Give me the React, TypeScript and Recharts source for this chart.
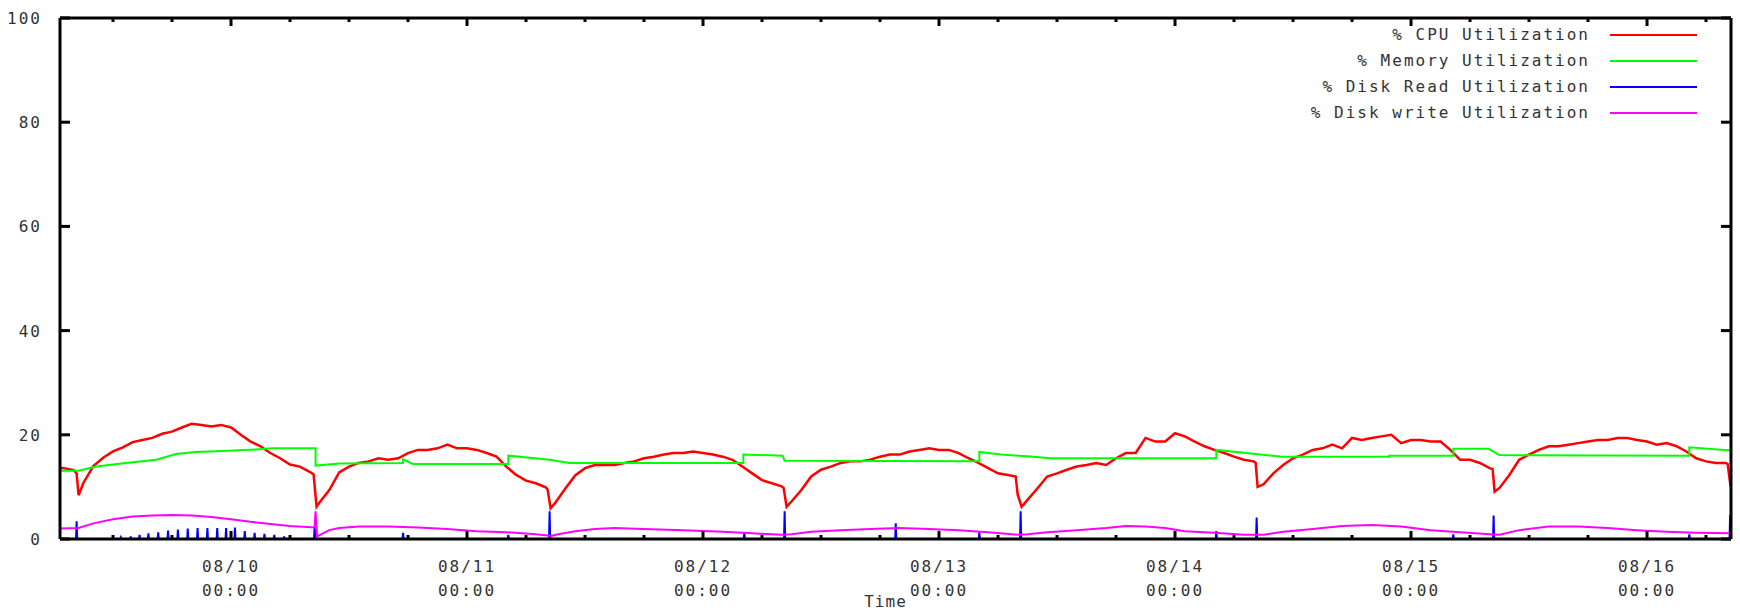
import { LineChart, Line, XAxis, YAxis, Legend, Label } from "recharts";

// x values are hours relative to 08/10 00:00
const X_MIN = -17.39;
const X_MAX = 152.54;

const xTickHours = [
  -12, -6, 0, 6, 12, 18, 24, 30, 36, 42, 48, 54, 60, 66, 72, 78, 84, 90, 96,
  102, 108, 114, 120, 126, 132, 138, 144, 150,
];
const dayTickHours = [0, 24, 48, 72, 96, 120, 144];
const dayLabels = ["08/10", "08/11", "08/12", "08/13", "08/14", "08/15", "08/16"];
const timeOfDayLabel = "00:00";
const yTicks = [0, 20, 40, 60, 80, 100];

const seriesNames = [
  "% CPU Utilization",
  "% Memory Utilization",
  "% Disk Read Utilization",
  "% Disk write Utilization",
];
const seriesColors = ["#ff0000", "#00ff00", "#0000ff", "#ff00ff"];

// CPU, sampled hourly from -17h (08/09 07:00)
const CPU_FIRST_HOUR = -17;
const cpuLeftEdge = 13.7;
const cpuHourly = [
  13.6, 13.2, 10.8, 14.0, 15.6, 16.8, 17.6, 18.6, 19.0, 19.4, 20.2, 20.6, 21.4,
  22.1, 21.9, 21.6, 21.9, 21.4, 20.0, 18.7, 17.8, 16.5, 15.5, 14.3, 13.9, 12.9,
  7.0, 9.4, 12.8, 13.9, 14.6, 14.9, 15.5, 15.2, 15.5, 16.5, 17.1, 17.1, 17.4,
  18.1, 17.4, 17.4, 17.1, 16.5, 15.8, 13.9, 12.3, 11.2, 10.7, 9.9, 7.0, 9.7,
  12.2, 13.6, 14.2, 14.2, 14.2, 14.6, 14.9, 15.5, 15.8, 16.2, 16.5, 16.5, 16.8,
  16.5, 16.2, 15.8, 15.2, 13.9, 12.6, 11.3, 10.7, 10.1, 7.2, 9.4, 12.0, 13.3,
  13.9, 14.6, 14.9, 14.9, 15.2, 15.8, 16.2, 16.2, 16.8, 17.1, 17.4, 17.1, 17.1,
  16.5, 15.5, 14.6, 13.6, 12.6, 12.3, 8.5, 7.5, 9.7, 12.0, 12.6, 13.3, 13.9,
  14.2, 14.6, 14.2, 15.5, 16.5, 16.5, 19.4, 18.7, 18.7, 20.3, 19.7, 18.7, 17.8,
  17.1, 16.5, 15.8, 15.2, 14.9, 10.5, 12.6, 14.2, 15.5, 16.2, 17.1, 17.4, 18.1,
  17.4, 19.4, 19.0, 19.4, 19.7, 20.0, 18.4, 19.0, 19.0, 18.7, 18.7, 17.1, 15.2,
  15.2, 14.6, 13.6, 9.8, 12.3, 15.2, 16.2, 17.1, 17.8, 17.8, 18.1, 18.4, 18.7,
  19.0, 19.0, 19.4, 19.4, 19.0, 18.7, 18.1, 18.4, 17.8, 16.8, 15.5, 14.9, 14.6,
  14.6,
];
// extra readings around the sharp daily drops
const cpuDipHours = [-15.7, -15.5, 8.4, 8.7, 32.2, 32.5, 56.2, 56.5, 79.8, 80.4, 104.2, 104.4, 128.3, 128.5, 152.2, 152.5];
const cpuDipValues = [12.6, 8.4, 12.4, 6.2, 9.5, 5.9, 9.8, 6.2, 12.0, 6.2, 14.6, 10.0, 13.4, 9.1, 14.4, 10.0];

const memHours = [
  -17.39, -15.5, -13.7, -10.7, -7.6, -5.6, -3.6, -0.8, 2.5, 4.2, 8.6, 8.6, 11,
  17.5, 17.5, 18.5, 28.2, 28.2, 32.4, 34.4, 52.1, 52.1, 56.1, 56.3, 76.1, 76.1,
  78.3, 81.6, 83.3, 100.2, 100.2, 104.2, 106.9, 117.8, 117.8, 124.3, 124.3,
  127.9, 129, 148.3, 148.3, 152.54,
];
const memValues = [
  13.1, 13.1, 13.9, 14.6, 15.2, 16.3, 16.7, 16.9, 17.2, 17.4, 17.4, 14.1, 14.5,
  14.6, 15.3, 14.4, 14.4, 16.0, 15.2, 14.6, 14.6, 16.2, 16.0, 15.0, 14.9, 16.7,
  16.2, 15.8, 15.5, 15.5, 17.1, 16.3, 15.8, 15.8, 16.0, 16.0, 17.3, 17.3, 16.1,
  16.0, 17.6, 17.0,
];

const readSpikeHours = [
  -15.7, -11.2, -10.2, -9.3, -8.4, -7.4, -6.4, -5.4, -4.4, -3.4, -2.4, -1.4,
  -0.5, 0.4, 1.4, 2.4, 3.4, 4.4, 5.4, 8.5, 17.5, 28.2, 32.4, 52.2, 56.3, 67.6,
  76.1, 80.3, 100.2, 104.3, 124.3, 128.4, 148.3, 152.45,
];
const readSpikeValues = [
  3.4, 0.3, 0.5, 0.8, 1.1, 1.3, 1.6, 1.8, 2.0, 2.1, 2.1, 2.1, 2.1, 2.2, 1.5,
  1.2, 1.0, 0.8, 0.5, 2.5, 1.2, 0.8, 5.3, 1.3, 5.3, 3.0, 1.3, 5.3, 1.5, 4.1,
  0.9, 4.5, 0.9, 4.6,
];

const writeHours = [
  -17.39, -15.5, -14, -12, -10, -8, -6, -4, -2, 0, 2, 4, 6, 8.5, 8.6, 8.75, 10,
  11, 13, 16, 19, 22, 25, 28, 31, 32.6, 33, 35, 37, 39, 42, 46, 50, 53, 56, 57,
  59, 62, 65, 68, 71, 74, 77, 80, 81, 83, 86, 89, 91, 93, 95, 97, 100, 103, 105,
  107, 110, 113, 116, 119, 122, 125, 128, 129, 131, 134, 137, 140, 143, 146, 149,
  152.54,
];
const writeValues = [
  2.0, 2.1, 3.0, 3.8, 4.3, 4.5, 4.6, 4.5, 4.2, 3.8, 3.3, 2.9, 2.5, 2.2, 5.3, 0.5,
  1.7, 2.1, 2.4, 2.4, 2.2, 1.9, 1.5, 1.3, 0.9, 0.6, 0.8, 1.5, 1.9, 2.1, 1.9, 1.7,
  1.4, 1.1, 0.8, 0.9, 1.4, 1.7, 1.9, 2.1, 1.9, 1.7, 1.3, 0.8, 0.9, 1.3, 1.7, 2.1,
  2.5, 2.4, 2.1, 1.5, 1.2, 0.8, 0.8, 1.4, 1.9, 2.5, 2.7, 2.4, 1.7, 1.3, 0.9, 0.8,
  1.7, 2.4, 2.4, 2.1, 1.7, 1.4, 1.2, 1.1,
];

const FONT = '"DejaVu Sans Mono", monospace';
const TEXT_COLOR = "#333";

const cpuData = [
  { h: X_MIN, v: cpuLeftEdge },
  ...cpuHourly.map((v, i) => ({ h: CPU_FIRST_HOUR + i, v })),
  ...cpuDipHours.map((h, i) => ({ h, v: cpuDipValues[i] })),
].sort((a, b) => a.h - b.h);

const memData = memHours.map((h, i) => ({ h, v: memValues[i] }));
const writeData = writeHours.map((h, i) => ({ h, v: writeValues[i] }));

// disk read is zero except for short spikes
const readData = [{ h: X_MIN, v: 0 }];
readSpikeHours.forEach((h, i) => {
  readData.push({ h: h - 0.06, v: 0 }, { h, v: readSpikeValues[i] }, { h: h + 0.06, v: 0 });
});
readData.push({ h: X_MAX, v: 0 });

const seriesData = [cpuData, memData, readData, writeData];

const textProps = {
  fontFamily: FONT,
  fontSize: 16,
  letterSpacing: 2,
  fill: TEXT_COLOR,
};

function BottomTick(props: any) {
  const { x, y, payload } = props;
  const idx = dayTickHours.indexOf(payload.value);
  const isDay = idx >= 0;
  return (
    <g>
      <line x1={x} x2={x} y1={y} y2={y - (isDay ? 8 : 4)} stroke="#000" strokeWidth={3} />
      {isDay && (
        <>
          <text x={x} y={y + 33} textAnchor="middle" {...textProps}>
            {dayLabels[idx]}
          </text>
          <text x={x} y={y + 57} textAnchor="middle" {...textProps}>
            {timeOfDayLabel}
          </text>
        </>
      )}
    </g>
  );
}

function TopTick(props: any) {
  const { x, y, payload } = props;
  const isDay = dayTickHours.includes(payload.value);
  return <line x1={x} x2={x} y1={y} y2={y + (isDay ? 8 : 4)} stroke="#000" strokeWidth={3} />;
}

function LeftTick(props: any) {
  const { x, y, payload } = props;
  return (
    <g>
      <line x1={x} x2={x + 10} y1={y} y2={y} stroke="#000" strokeWidth={3} />
      <text x={x - 18} y={y + 6} textAnchor="end" {...textProps}>
        {payload.value}
      </text>
    </g>
  );
}

function RightTick(props: any) {
  const { x, y } = props;
  return <line x1={x} x2={x - 10} y1={y} y2={y} stroke="#000" strokeWidth={3} />;
}

function LegendBox() {
  return (
    <div>
      {seriesNames.map((name, i) => (
        <div
          key={name}
          style={{
            display: "flex",
            justifyContent: "flex-end",
            alignItems: "center",
            height: 26,
          }}
        >
          <span
            style={{
              fontFamily: FONT,
              fontSize: 16,
              letterSpacing: 2,
              color: TEXT_COLOR,
              whiteSpace: "pre",
              lineHeight: "26px",
            }}
          >
            {name}
          </span>
          <span
            style={{
              display: "inline-block",
              width: 87,
              height: 2,
              marginLeft: 20,
              background: seriesColors[i],
            }}
          />
        </div>
      ))}
    </div>
  );
}

export default function App() {
  return (
    <div style={{ position: "absolute", left: 0, top: 0, width: 1740, height: 611, background: "#fff" }}>
      <LineChart width={1740} height={611} margin={{ top: 0, right: 0, bottom: 0, left: 0 }}>
        <XAxis
          xAxisId="b"
          type="number"
          dataKey="h"
          domain={[X_MIN, X_MAX]}
          allowDataOverflow
          ticks={xTickHours}
          interval={0}
          height={72}
          tickSize={0}
          tickMargin={0}
          tickLine={false}
          axisLine={{ stroke: "#000", strokeWidth: 3 }}
          tick={BottomTick}
        >
          <Label
            value="Time"
            position="insideBottom"
            offset={4}
            dx={-10}
            fontFamily={FONT}
            fontSize={16}
            letterSpacing={1}
            fill={TEXT_COLOR}
          />
        </XAxis>
        <XAxis
          xAxisId="t"
          orientation="top"
          type="number"
          dataKey="h"
          domain={[X_MIN, X_MAX]}
          allowDataOverflow
          ticks={xTickHours}
          interval={0}
          height={18}
          tickSize={0}
          tickMargin={0}
          tickLine={false}
          axisLine={{ stroke: "#000", strokeWidth: 3 }}
          tick={TopTick}
        />
        <YAxis
          yAxisId="l"
          type="number"
          domain={[0, 100]}
          allowDataOverflow
          ticks={yTicks}
          interval={0}
          width={60}
          tickSize={0}
          tickMargin={0}
          tickLine={false}
          axisLine={{ stroke: "#000", strokeWidth: 3 }}
          tick={LeftTick}
        />
        <YAxis
          yAxisId="r"
          orientation="right"
          type="number"
          domain={[0, 100]}
          allowDataOverflow
          ticks={yTicks}
          interval={0}
          width={9}
          tickSize={0}
          tickMargin={0}
          tickLine={false}
          axisLine={{ stroke: "#000", strokeWidth: 3 }}
          tick={RightTick}
        />
        <Legend
          layout="vertical"
          align="center"
          verticalAlign="middle"
          wrapperStyle={{ left: 1097, top: 22, width: 600 }}
          content={() => <LegendBox />}
        />
        {seriesNames.map((name, i) => (
          <Line
            key={name}
            name={name}
            xAxisId="b"
            yAxisId="l"
            data={seriesData[i]}
            dataKey="v"
            type="linear"
            stroke={seriesColors[i]}
            strokeWidth={i === 0 ? 2.5 : 2}
            dot={false}
            activeDot={false}
            isAnimationActive={false}
          />
        ))}
      </LineChart>
    </div>
  );
}
